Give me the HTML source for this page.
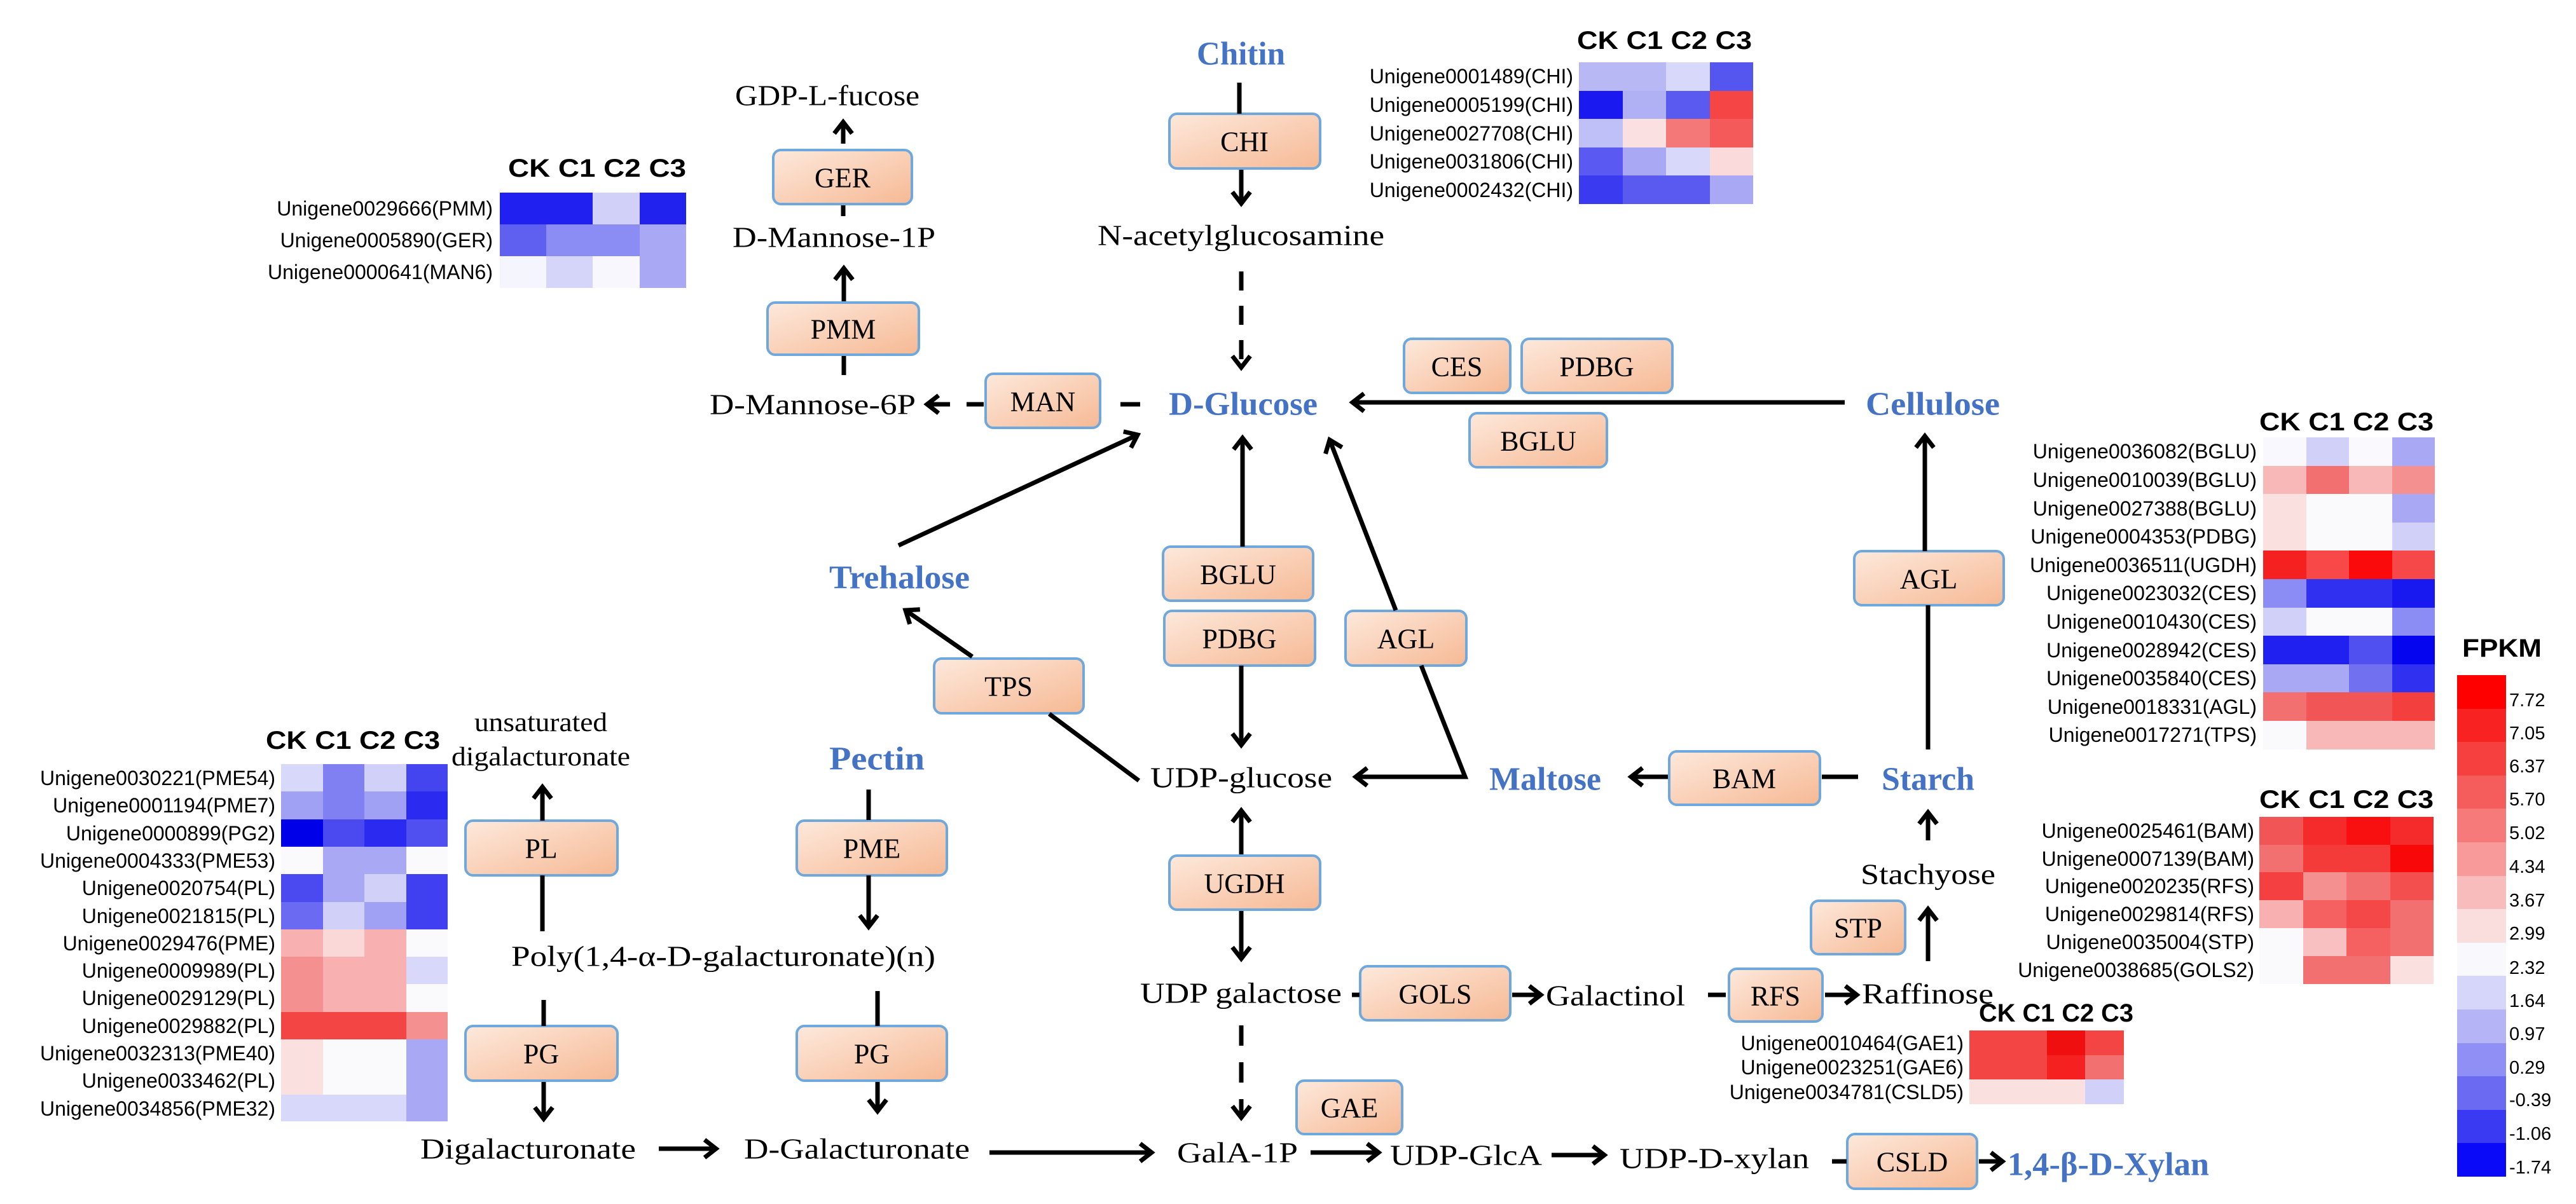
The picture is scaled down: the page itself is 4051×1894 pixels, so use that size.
<!DOCTYPE html>
<html><head><meta charset="utf-8"><style>
html,body{margin:0;padding:0;background:#fff;}
svg{display:block;}
.t{font-family:"Liberation Serif",serif;font-size:46px;fill:#000;}
.b{font-family:"Liberation Serif",serif;font-size:52px;font-weight:bold;fill:#4472c4;}
.e{font-family:"Liberation Serif",serif;font-size:44px;fill:#000;}
.g{font-family:"Liberation Sans",sans-serif;font-size:32px;fill:#000;}
.h{font-family:"Liberation Sans",sans-serif;font-size:40px;font-weight:bold;fill:#000;}
.l{font-family:"Liberation Sans",sans-serif;font-size:29px;fill:#000;}
.a{stroke:#000;stroke-width:7;fill:none;}
</style></head><body>
<svg width="4051" height="1894" viewBox="0 0 4051 1894" xmlns="http://www.w3.org/2000/svg">
<defs>
<linearGradient id="gr" x1="0" y1="0" x2="1" y2="1">
<stop offset="0" stop-color="#fde9dc"/><stop offset="1" stop-color="#f6b994"/>
</linearGradient>
<marker id="m" markerUnits="userSpaceOnUse" markerWidth="40" markerHeight="40" refX="22" refY="18" orient="auto">
<path d="M4,4 L22,18 L4,32" stroke="#000" stroke-width="7" fill="none"/>
</marker>
</defs>
<rect width="4051" height="1894" fill="#fff"/>

<!-- enzyme boxes -->
<g fill="url(#gr)" stroke="#6fa8dc" stroke-width="4">
<rect x="1216" y="236" width="218" height="85" rx="12"/>
<rect x="1207" y="476" width="238" height="82" rx="12"/>
<rect x="1550" y="588" width="180" height="85" rx="12"/>
<rect x="1839" y="179" width="237" height="86" rx="12"/>
<rect x="2208" y="533" width="167" height="85" rx="12"/>
<rect x="2393" y="533" width="237" height="85" rx="12"/>
<rect x="2311" y="650" width="216" height="85" rx="12"/>
<rect x="1829" y="860" width="236" height="85" rx="12"/>
<rect x="1831" y="961" width="237" height="86" rx="12"/>
<rect x="2116" y="961" width="190" height="86" rx="12"/>
<rect x="1469" y="1036" width="235" height="86" rx="12"/>
<rect x="2625" y="1182" width="237" height="84" rx="12"/>
<rect x="2916" y="867" width="235" height="85" rx="12"/>
<rect x="2848" y="1417" width="148" height="84" rx="12"/>
<rect x="1839" y="1346" width="237" height="85" rx="12"/>
<rect x="2139" y="1520" width="236" height="85" rx="12"/>
<rect x="2719" y="1524" width="147" height="83" rx="12"/>
<rect x="2039" y="1700" width="166" height="84" rx="12"/>
<rect x="2905" y="1784" width="204" height="86" rx="12"/>
<rect x="732" y="1291" width="239" height="86" rx="12"/>
<rect x="732" y="1614" width="239" height="86" rx="12"/>
<rect x="1253" y="1291" width="236" height="86" rx="12"/>
<rect x="1253" y="1614" width="236" height="86" rx="12"/>
</g>
<g class="e" text-anchor="middle" dominant-baseline="central">
<text x="1325" y="280">GER</text>
<text x="1326" y="518">PMM</text>
<text x="1640" y="632">MAN</text>
<text x="1957" y="223">CHI</text>
<text x="2291" y="577">CES</text>
<text x="2511" y="577">PDBG</text>
<text x="2419" y="694">BGLU</text>
<text x="1947" y="904">BGLU</text>
<text x="1949" y="1005">PDBG</text>
<text x="2211" y="1005">AGL</text>
<text x="1586" y="1080">TPS</text>
<text x="2743" y="1225">BAM</text>
<text x="3033" y="911">AGL</text>
<text x="2922" y="1460">STP</text>
<text x="1957" y="1390">UGDH</text>
<text x="2257" y="1564">GOLS</text>
<text x="2792" y="1567">RFS</text>
<text x="2122" y="1743">GAE</text>
<text x="3007" y="1828">CSLD</text>
<text x="851" y="1335">PL</text>
<text x="851" y="1658">PG</text>
<text x="1371" y="1335">PME</text>
<text x="1371" y="1658">PG</text>
</g>

<!-- metabolite labels -->
<g class="t" dominant-baseline="central" lengthAdjust="spacingAndGlyphs">
<text x="1156" y="150" textLength="290" lengthAdjust="spacingAndGlyphs">GDP-L-fucose</text>
<text x="1152" y="373" textLength="319" lengthAdjust="spacingAndGlyphs">D-Mannose-1P</text>
<text x="1116" y="636" textLength="324" lengthAdjust="spacingAndGlyphs">D-Mannose-6P</text>
<text x="1726" y="370" textLength="451" lengthAdjust="spacingAndGlyphs">N-acetylglucosamine</text>
<text x="1809" y="1223" textLength="286" lengthAdjust="spacingAndGlyphs">UDP-glucose</text>
<text x="2926" y="1375" textLength="212" lengthAdjust="spacingAndGlyphs">Stachyose</text>
<text x="1793" y="1562" textLength="317" lengthAdjust="spacingAndGlyphs">UDP galactose</text>
<text x="2431" y="1566" textLength="219" lengthAdjust="spacingAndGlyphs">Galactinol</text>
<text x="2928" y="1563" textLength="207" lengthAdjust="spacingAndGlyphs">Raffinose</text>
<text x="1851" y="1813" textLength="190" lengthAdjust="spacingAndGlyphs">GalA-1P</text>
<text x="2186" y="1817" textLength="239" lengthAdjust="spacingAndGlyphs">UDP-GlcA</text>
<text x="2547" y="1822" textLength="298" lengthAdjust="spacingAndGlyphs">UDP-D-xylan</text>
<text x="746" y="1137" textLength="209" lengthAdjust="spacingAndGlyphs" font-size="42">unsaturated</text>
<text x="710" y="1191" textLength="281" lengthAdjust="spacingAndGlyphs" font-size="42">digalacturonate</text>
<text x="804" y="1504" textLength="667" lengthAdjust="spacingAndGlyphs">Poly(1,4-α-D-galacturonate)(n)</text>
<text x="661" y="1807" textLength="339" lengthAdjust="spacingAndGlyphs">Digalacturonate</text>
<text x="1170" y="1807" textLength="355" lengthAdjust="spacingAndGlyphs">D-Galacturonate</text>
</g>
<g class="b" dominant-baseline="central">
<text x="1882" y="85" textLength="139" lengthAdjust="spacingAndGlyphs">Chitin</text>
<text x="1838" y="636" textLength="234" lengthAdjust="spacingAndGlyphs">D-Glucose</text>
<text x="2934" y="636" textLength="211" lengthAdjust="spacingAndGlyphs">Cellulose</text>
<text x="1304" y="909" textLength="221" lengthAdjust="spacingAndGlyphs">Trehalose</text>
<text x="2342" y="1226" textLength="176" lengthAdjust="spacingAndGlyphs">Maltose</text>
<text x="2959" y="1226" textLength="146" lengthAdjust="spacingAndGlyphs">Starch</text>
<text x="1304" y="1194" textLength="150" lengthAdjust="spacingAndGlyphs">Pectin</text>
<text x="3157" y="1832" textLength="317" lengthAdjust="spacingAndGlyphs">1,4-β-D-Xylan</text>
</g>

<!-- connectors -->
<g class="a">
<line x1="1326" y1="226" x2="1326" y2="192" marker-end="url(#m)"/>
<line x1="1326" y1="323" x2="1326" y2="340"/>
<line x1="1327" y1="474" x2="1327" y2="422" marker-end="url(#m)"/>
<line x1="1327" y1="560" x2="1327" y2="590"/>
<line x1="1494" y1="636" x2="1458" y2="636" marker-end="url(#m)"/>
<line x1="1520" y1="636" x2="1547" y2="636"/>
<line x1="1762" y1="636" x2="1793" y2="636"/>
<line x1="1949" y1="130" x2="1949" y2="179"/>
<line x1="1952" y1="267" x2="1952" y2="320" marker-end="url(#m)"/>
<line x1="1952" y1="427" x2="1952" y2="578" stroke-dasharray="30 24" marker-end="url(#m)"/>
<line x1="2901" y1="633" x2="2127" y2="633" marker-end="url(#m)"/>
<line x1="1413" y1="858" x2="1789" y2="684" marker-end="url(#m)"/>
<line x1="1954" y1="860" x2="1954" y2="689" marker-end="url(#m)"/>
<line x1="2195" y1="960" x2="2091" y2="692" marker-end="url(#m)"/>
<polyline points="2235,1047 2304,1222 2132,1222" marker-end="url(#m)"/>
<line x1="1952" y1="1047" x2="1952" y2="1172" marker-end="url(#m)"/>
<line x1="1791" y1="1228" x2="1650" y2="1123"/>
<line x1="1529" y1="1033" x2="1424" y2="960" marker-end="url(#m)"/>
<line x1="2623" y1="1222" x2="2565" y2="1222" marker-end="url(#m)"/>
<line x1="2865" y1="1222" x2="2922" y2="1222"/>
<line x1="3032" y1="1179" x2="3032" y2="952"/>
<line x1="3027" y1="867" x2="3027" y2="686" marker-end="url(#m)"/>
<line x1="3032" y1="1322" x2="3032" y2="1278" marker-end="url(#m)"/>
<line x1="3032" y1="1512" x2="3032" y2="1430" marker-end="url(#m)"/>
<line x1="1952" y1="1344" x2="1952" y2="1275" marker-end="url(#m)"/>
<line x1="1952" y1="1433" x2="1952" y2="1508" marker-end="url(#m)"/>
<line x1="2126" y1="1565" x2="2138" y2="1565"/>
<line x1="2378" y1="1565" x2="2423" y2="1565" marker-end="url(#m)"/>
<line x1="2686" y1="1565" x2="2714" y2="1565"/>
<line x1="2870" y1="1565" x2="2920" y2="1565" marker-end="url(#m)"/>
<line x1="1952" y1="1613" x2="1952" y2="1758" stroke-dasharray="32 26" marker-end="url(#m)"/>
<line x1="1556" y1="1813" x2="1811" y2="1813" marker-end="url(#m)"/>
<line x1="2061" y1="1813" x2="2168" y2="1813" marker-end="url(#m)"/>
<line x1="2440" y1="1817" x2="2523" y2="1817" marker-end="url(#m)"/>
<line x1="2881" y1="1827" x2="2904" y2="1827"/>
<line x1="3112" y1="1827" x2="3149" y2="1827" marker-end="url(#m)"/>
<line x1="853" y1="1291" x2="853" y2="1238" marker-end="url(#m)"/>
<line x1="853" y1="1377" x2="853" y2="1465"/>
<line x1="855" y1="1573" x2="855" y2="1614"/>
<line x1="855" y1="1702" x2="855" y2="1760" marker-end="url(#m)"/>
<line x1="1036" y1="1807" x2="1126" y2="1807" marker-end="url(#m)"/>
<line x1="1366" y1="1242" x2="1366" y2="1290"/>
<line x1="1366" y1="1377" x2="1366" y2="1458" marker-end="url(#m)"/>
<line x1="1380" y1="1559" x2="1380" y2="1614"/>
<line x1="1380" y1="1702" x2="1380" y2="1748" marker-end="url(#m)"/>
</g>

<!-- PMM heatmap -->
<g shape-rendering="crispEdges">
<rect x="786" y="303" width="74" height="51" fill="#2020f0"/><rect x="859" y="303" width="74" height="51" fill="#2020f0"/><rect x="932" y="303" width="75" height="51" fill="#d0d0f8"/><rect x="1006" y="303" width="73" height="51" fill="#2222ee"/>
<rect x="786" y="353" width="74" height="51" fill="#6060f0"/><rect x="859" y="353" width="74" height="51" fill="#8c8cf5"/><rect x="932" y="353" width="75" height="51" fill="#8c8cf5"/><rect x="1006" y="353" width="73" height="51" fill="#a8a8f5"/>
<rect x="786" y="403" width="74" height="50" fill="#f5f5fd"/><rect x="859" y="403" width="74" height="50" fill="#d5d5fa"/><rect x="932" y="403" width="75" height="50" fill="#f7f7fd"/><rect x="1006" y="403" width="73" height="50" fill="#a8a8f5"/>
</g>
<text class="h" x="799" y="265" dominant-baseline="central" textLength="280" lengthAdjust="spacingAndGlyphs">CK C1 C2 C3</text>
<g class="g" font-size="35" text-anchor="end" dominant-baseline="central">
<text x="775" y="328">Unigene0029666(PMM)</text>
<text x="775" y="378">Unigene0005890(GER)</text>
<text x="775" y="428">Unigene0000641(MAN6)</text>
</g>

<!-- CHI heatmap -->
<g shape-rendering="crispEdges">
<rect x="2483" y="98" width="70" height="46" fill="#b8b8f5"/><rect x="2552" y="98" width="69" height="46" fill="#b8b8f5"/><rect x="2620" y="98" width="70" height="46" fill="#d8d8fa"/><rect x="2689" y="98" width="68" height="46" fill="#5555f0"/>
<rect x="2483" y="143" width="70" height="45" fill="#1a1af0"/><rect x="2552" y="143" width="69" height="45" fill="#b0b0f5"/><rect x="2620" y="143" width="70" height="45" fill="#5a5af0"/><rect x="2689" y="143" width="68" height="45" fill="#f54545"/>
<rect x="2483" y="187" width="70" height="46" fill="#c0c0f8"/><rect x="2552" y="187" width="69" height="46" fill="#fae0e0"/><rect x="2620" y="187" width="70" height="46" fill="#f57878"/><rect x="2689" y="187" width="68" height="46" fill="#f55a5a"/>
<rect x="2483" y="232" width="70" height="45" fill="#5a5af2"/><rect x="2552" y="232" width="69" height="45" fill="#a8a8f5"/><rect x="2620" y="232" width="70" height="45" fill="#d8d8fa"/><rect x="2689" y="232" width="68" height="45" fill="#fadada"/>
<rect x="2483" y="276" width="70" height="45" fill="#3a3af0"/><rect x="2552" y="276" width="69" height="45" fill="#5a5af0"/><rect x="2620" y="276" width="70" height="45" fill="#5a5af0"/><rect x="2689" y="276" width="68" height="45" fill="#a8a8f5"/>
</g>
<text class="h" x="2480" y="64" dominant-baseline="central" textLength="275" lengthAdjust="spacingAndGlyphs">CK C1 C2 C3</text>
<g class="g" text-anchor="end" dominant-baseline="central">
<text x="2474" y="120">Unigene0001489(CHI)</text>
<text x="2474" y="165">Unigene0005199(CHI)</text>
<text x="2474" y="210">Unigene0027708(CHI)</text>
<text x="2474" y="254">Unigene0031806(CHI)</text>
<text x="2474" y="299">Unigene0002432(CHI)</text>
</g>

<!-- Right heatmap 1 -->
<g shape-rendering="crispEdges">
<rect x="3559" y="688" width="69" height="46" fill="#f8f8fe"/><rect x="3627" y="688" width="68" height="46" fill="#d0d0f8"/><rect x="3694" y="688" width="69" height="46" fill="#fafafe"/><rect x="3762" y="688" width="67" height="46" fill="#a8a8f5"/>
<rect x="3559" y="733" width="69" height="45" fill="#f8b8b8"/><rect x="3627" y="733" width="68" height="45" fill="#f27070"/><rect x="3694" y="733" width="69" height="45" fill="#f8b8b8"/><rect x="3762" y="733" width="67" height="45" fill="#f49090"/>
<rect x="3559" y="777" width="69" height="46" fill="#fbe0e0"/><rect x="3627" y="777" width="68" height="46" fill="#fafafd"/><rect x="3694" y="777" width="69" height="46" fill="#fafafd"/><rect x="3762" y="777" width="67" height="46" fill="#a8a8f5"/>
<rect x="3559" y="822" width="69" height="45" fill="#fbe0e0"/><rect x="3627" y="822" width="68" height="45" fill="#fafafd"/><rect x="3694" y="822" width="69" height="45" fill="#fafafd"/><rect x="3762" y="822" width="67" height="45" fill="#d0d0f8"/>
<rect x="3559" y="866" width="69" height="46" fill="#f52020"/><rect x="3627" y="866" width="68" height="46" fill="#f84848"/><rect x="3694" y="866" width="69" height="46" fill="#fa0a0a"/><rect x="3762" y="866" width="67" height="46" fill="#f64848"/>
<rect x="3559" y="911" width="69" height="46" fill="#8c8cf5"/><rect x="3627" y="911" width="68" height="46" fill="#3030f0"/><rect x="3694" y="911" width="69" height="46" fill="#3030f0"/><rect x="3762" y="911" width="67" height="46" fill="#1818f0"/>
<rect x="3559" y="956" width="69" height="45" fill="#d0d0f8"/><rect x="3627" y="956" width="68" height="45" fill="#fafafd"/><rect x="3694" y="956" width="69" height="45" fill="#fafafd"/><rect x="3762" y="956" width="67" height="45" fill="#8c8cf5"/>
<rect x="3559" y="1000" width="69" height="46" fill="#2020f0"/><rect x="3627" y="1000" width="68" height="46" fill="#2020f0"/><rect x="3694" y="1000" width="69" height="46" fill="#5050f0"/><rect x="3762" y="1000" width="67" height="46" fill="#0505f0"/>
<rect x="3559" y="1045" width="69" height="45" fill="#a8a8f5"/><rect x="3627" y="1045" width="68" height="45" fill="#a8a8f5"/><rect x="3694" y="1045" width="69" height="45" fill="#7070f0"/><rect x="3762" y="1045" width="67" height="45" fill="#3030f0"/>
<rect x="3559" y="1089" width="69" height="46" fill="#f27070"/><rect x="3627" y="1089" width="68" height="46" fill="#f25555"/><rect x="3694" y="1089" width="69" height="46" fill="#f25555"/><rect x="3762" y="1089" width="67" height="46" fill="#f43f3f"/>
<rect x="3559" y="1134" width="69" height="45" fill="#fafafd"/><rect x="3627" y="1134" width="68" height="45" fill="#f8b8b8"/><rect x="3694" y="1134" width="69" height="45" fill="#f8b8b8"/><rect x="3762" y="1134" width="67" height="45" fill="#f8b8b8"/>
</g>
<text class="h" x="3553" y="664" dominant-baseline="central" textLength="274" lengthAdjust="spacingAndGlyphs">CK C1 C2 C3</text>
<g class="g" text-anchor="end" dominant-baseline="central">
<text x="3549" y="710">Unigene0036082(BGLU)</text>
<text x="3549" y="755">Unigene0010039(BGLU)</text>
<text x="3549" y="800">Unigene0027388(BGLU)</text>
<text x="3549" y="844">Unigene0004353(PDBG)</text>
<text x="3549" y="889">Unigene0036511(UGDH)</text>
<text x="3549" y="933">Unigene0023032(CES)</text>
<text x="3549" y="978">Unigene0010430(CES)</text>
<text x="3549" y="1023">Unigene0028942(CES)</text>
<text x="3549" y="1067">Unigene0035840(CES)</text>
<text x="3549" y="1112">Unigene0018331(AGL)</text>
<text x="3549" y="1156">Unigene0017271(TPS)</text>
</g>

<!-- Right heatmap 2 -->
<g shape-rendering="crispEdges">
<rect x="3553" y="1285" width="70" height="45" fill="#f25555"/><rect x="3622" y="1285" width="69" height="45" fill="#f52a2a"/><rect x="3690" y="1285" width="70" height="45" fill="#f81010"/><rect x="3759" y="1285" width="68" height="45" fill="#f52a2a"/>
<rect x="3553" y="1329" width="70" height="44" fill="#f27070"/><rect x="3622" y="1329" width="69" height="44" fill="#f53a3a"/><rect x="3690" y="1329" width="70" height="44" fill="#f53a3a"/><rect x="3759" y="1329" width="68" height="44" fill="#f80808"/>
<rect x="3553" y="1372" width="70" height="45" fill="#f44040"/><rect x="3622" y="1372" width="69" height="45" fill="#f59090"/><rect x="3690" y="1372" width="70" height="45" fill="#f27070"/><rect x="3759" y="1372" width="68" height="45" fill="#f44f4f"/>
<rect x="3553" y="1416" width="70" height="45" fill="#f8b0b0"/><rect x="3622" y="1416" width="69" height="45" fill="#f56060"/><rect x="3690" y="1416" width="70" height="45" fill="#f44848"/><rect x="3759" y="1416" width="68" height="45" fill="#f27070"/>
<rect x="3553" y="1460" width="70" height="45" fill="#fafafd"/><rect x="3622" y="1460" width="69" height="45" fill="#f8c0c0"/><rect x="3690" y="1460" width="70" height="45" fill="#f56060"/><rect x="3759" y="1460" width="68" height="45" fill="#f27070"/>
<rect x="3553" y="1504" width="70" height="44" fill="#fafafd"/><rect x="3622" y="1504" width="69" height="44" fill="#f27070"/><rect x="3690" y="1504" width="70" height="44" fill="#f27070"/><rect x="3759" y="1504" width="68" height="44" fill="#fbe0e0"/>
</g>
<text class="h" x="3553" y="1258" dominant-baseline="central" textLength="274" lengthAdjust="spacingAndGlyphs">CK C1 C2 C3</text>
<g class="g" text-anchor="end" dominant-baseline="central">
<text x="3545" y="1307">Unigene0025461(BAM)</text>
<text x="3545" y="1351">Unigene0007139(BAM)</text>
<text x="3545" y="1394">Unigene0020235(RFS)</text>
<text x="3545" y="1438">Unigene0029814(RFS)</text>
<text x="3545" y="1482">Unigene0035004(STP)</text>
<text x="3545" y="1526">Unigene0038685(GOLS2)</text>
</g>

<!-- GAE heatmap -->
<g shape-rendering="crispEdges">
<rect x="3097" y="1621" width="62" height="40" fill="#f44545"/><rect x="3158" y="1621" width="62" height="40" fill="#f44545"/><rect x="3219" y="1621" width="61" height="40" fill="#f00f0f"/><rect x="3279" y="1621" width="61" height="40" fill="#f44545"/>
<rect x="3097" y="1660" width="62" height="39" fill="#f44545"/><rect x="3158" y="1660" width="62" height="39" fill="#f44545"/><rect x="3219" y="1660" width="61" height="39" fill="#f52020"/><rect x="3279" y="1660" width="61" height="39" fill="#f27070"/>
<rect x="3097" y="1698" width="62" height="39" fill="#fbe0e0"/><rect x="3158" y="1698" width="62" height="39" fill="#fbe0e0"/><rect x="3219" y="1698" width="61" height="39" fill="#fbe0e0"/><rect x="3279" y="1698" width="61" height="39" fill="#d0d0f8"/>
</g>
<text class="h" x="3112" y="1594" dominant-baseline="central" textLength="243" lengthAdjust="spacingAndGlyphs" font-size="36">CK C1 C2 C3</text>
<g class="g" font-size="29" text-anchor="end" dominant-baseline="central">
<text x="3088" y="1641">Unigene0010464(GAE1)</text>
<text x="3088" y="1679">Unigene0023251(GAE6)</text>
<text x="3088" y="1718">Unigene0034781(CSLD5)</text>
</g>

<!-- Left heatmap -->
<g shape-rendering="crispEdges">
<rect x="442" y="1202" width="67" height="44" fill="#d8d8fa"/><rect x="508" y="1202" width="66" height="44" fill="#8080f3"/><rect x="573" y="1202" width="67" height="44" fill="#d0d0f8"/><rect x="639" y="1202" width="65" height="44" fill="#4545f0"/>
<rect x="442" y="1245" width="67" height="45" fill="#a0a0f5"/><rect x="508" y="1245" width="66" height="45" fill="#8080f3"/><rect x="573" y="1245" width="67" height="45" fill="#a0a0f5"/><rect x="639" y="1245" width="65" height="45" fill="#2a2af0"/>
<rect x="442" y="1289" width="67" height="44" fill="#0000e8"/><rect x="508" y="1289" width="66" height="44" fill="#4a4af0"/><rect x="573" y="1289" width="67" height="44" fill="#2a2af0"/><rect x="639" y="1289" width="65" height="44" fill="#5050f0"/>
<rect x="442" y="1332" width="67" height="44" fill="#fafafd"/><rect x="508" y="1332" width="66" height="44" fill="#a8a8f5"/><rect x="573" y="1332" width="67" height="44" fill="#a8a8f5"/><rect x="639" y="1332" width="65" height="44" fill="#fafafd"/>
<rect x="442" y="1375" width="67" height="45" fill="#4a4af0"/><rect x="508" y="1375" width="66" height="45" fill="#a8a8f5"/><rect x="573" y="1375" width="67" height="45" fill="#d0d0f8"/><rect x="639" y="1375" width="65" height="45" fill="#4040f0"/>
<rect x="442" y="1419" width="67" height="44" fill="#6a6af2"/><rect x="508" y="1419" width="66" height="44" fill="#d0d0f8"/><rect x="573" y="1419" width="67" height="44" fill="#a0a0f5"/><rect x="639" y="1419" width="65" height="44" fill="#4040f0"/>
<rect x="442" y="1462" width="67" height="44" fill="#f8b0b0"/><rect x="508" y="1462" width="66" height="44" fill="#fad8d8"/><rect x="573" y="1462" width="67" height="44" fill="#f8b0b0"/><rect x="639" y="1462" width="65" height="44" fill="#fafafd"/>
<rect x="442" y="1505" width="67" height="44" fill="#f59090"/><rect x="508" y="1505" width="66" height="44" fill="#f8b0b0"/><rect x="573" y="1505" width="67" height="44" fill="#f8b0b0"/><rect x="639" y="1505" width="65" height="44" fill="#d8d8fa"/>
<rect x="442" y="1548" width="67" height="45" fill="#f59090"/><rect x="508" y="1548" width="66" height="45" fill="#f8b0b0"/><rect x="573" y="1548" width="67" height="45" fill="#f8b0b0"/><rect x="639" y="1548" width="65" height="45" fill="#fafafd"/>
<rect x="442" y="1592" width="67" height="44" fill="#f44545"/><rect x="508" y="1592" width="66" height="44" fill="#f44545"/><rect x="573" y="1592" width="67" height="44" fill="#f44545"/><rect x="639" y="1592" width="65" height="44" fill="#f59090"/>
<rect x="442" y="1635" width="67" height="44" fill="#fbe0e0"/><rect x="508" y="1635" width="66" height="44" fill="#fafafd"/><rect x="573" y="1635" width="67" height="44" fill="#fafafd"/><rect x="639" y="1635" width="65" height="44" fill="#a8a8f5"/>
<rect x="442" y="1678" width="67" height="45" fill="#fbe0e0"/><rect x="508" y="1678" width="66" height="45" fill="#fafafd"/><rect x="573" y="1678" width="67" height="45" fill="#fafafd"/><rect x="639" y="1678" width="65" height="45" fill="#a8a8f5"/>
<rect x="442" y="1722" width="67" height="42" fill="#d8d8fa"/><rect x="508" y="1722" width="66" height="42" fill="#d8d8fa"/><rect x="573" y="1722" width="67" height="42" fill="#d8d8fa"/><rect x="639" y="1722" width="65" height="42" fill="#a8a8f5"/>
</g>
<text class="h" x="418" y="1165" dominant-baseline="central" textLength="274" lengthAdjust="spacingAndGlyphs">CK C1 C2 C3</text>
<g class="g" text-anchor="end" dominant-baseline="central">
<text x="433" y="1224">Unigene0030221(PME54)</text>
<text x="433" y="1267">Unigene0001194(PME7)</text>
<text x="433" y="1311">Unigene0000899(PG2)</text>
<text x="433" y="1354">Unigene0004333(PME53)</text>
<text x="433" y="1397">Unigene0020754(PL)</text>
<text x="433" y="1441">Unigene0021815(PL)</text>
<text x="433" y="1484">Unigene0029476(PME)</text>
<text x="433" y="1527">Unigene0009989(PL)</text>
<text x="433" y="1570">Unigene0029129(PL)</text>
<text x="433" y="1614">Unigene0029882(PL)</text>
<text x="433" y="1657">Unigene0032313(PME40)</text>
<text x="433" y="1700">Unigene0033462(PL)</text>
<text x="433" y="1744">Unigene0034856(PME32)</text>
</g>

<!-- FPKM legend -->
<text class="h" x="3872" y="1020" dominant-baseline="central" textLength="125" lengthAdjust="spacingAndGlyphs">FPKM</text>
<g shape-rendering="crispEdges">
<rect x="3864" y="1062" width="77" height="54" fill="#ff0000"/>
<rect x="3864" y="1115" width="77" height="54" fill="#f82222"/>
<rect x="3864" y="1167" width="77" height="54" fill="#f64040"/>
<rect x="3864" y="1220" width="77" height="54" fill="#f55c5c"/>
<rect x="3864" y="1272" width="77" height="54" fill="#f67a7a"/>
<rect x="3864" y="1325" width="77" height="54" fill="#f89a9a"/>
<rect x="3864" y="1378" width="77" height="54" fill="#f9bcbc"/>
<rect x="3864" y="1430" width="77" height="54" fill="#fadddd"/>
<rect x="3864" y="1483" width="77" height="54" fill="#f8f8fd"/>
<rect x="3864" y="1535" width="77" height="54" fill="#d6d6fa"/>
<rect x="3864" y="1588" width="77" height="54" fill="#b4b4f7"/>
<rect x="3864" y="1641" width="77" height="54" fill="#8f8ff5"/>
<rect x="3864" y="1693" width="77" height="54" fill="#6a6af3"/>
<rect x="3864" y="1746" width="77" height="54" fill="#3a3af2"/>
<rect x="3864" y="1798" width="77" height="53" fill="#0a0af8"/>
</g>
<g class="l" dominant-baseline="central">
<text x="3946" y="1102">7.72</text>
<text x="3946" y="1154">7.05</text>
<text x="3946" y="1206">6.37</text>
<text x="3946" y="1258">5.70</text>
<text x="3946" y="1311">5.02</text>
<text x="3946" y="1364">4.34</text>
<text x="3946" y="1417">3.67</text>
<text x="3946" y="1469">2.99</text>
<text x="3946" y="1523">2.32</text>
<text x="3946" y="1575">1.64</text>
<text x="3946" y="1627">0.97</text>
<text x="3946" y="1680">0.29</text>
<text x="3946" y="1731">-0.39</text>
<text x="3946" y="1784">-1.06</text>
<text x="3946" y="1837">-1.74</text>
</g>
</svg>
</body></html>
